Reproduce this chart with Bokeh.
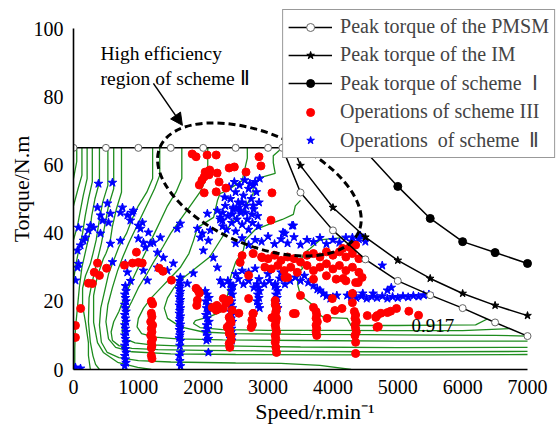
import math
from bokeh.plotting import figure
from bokeh.models import Range1d, Legend, LegendItem, Label, Arrow, NormalHead, Title
from bokeh.embed import file_html
from bokeh.resources import INLINE

# ---------------- data ----------------
x_ticks = [0, 1000, 2000, 3000, 4000, 5000, 6000, 7000]
y_ticks = [0, 20, 40, 60, 80, 100]

pmsm_speed = [0, 500, 1000, 1500, 2000, 2500, 3000, 3220, 3500, 4000, 4500, 5000, 5500, 6000, 6500, 7000]
pmsm_torque = [65, 65, 65, 65, 65, 65, 65, 65, 51.9, 40.8, 32.3, 26.0, 21.8, 18.0, 13.8, 9.8]

im_speed = [3330, 3500, 4000, 4500, 5000, 5500, 6000, 6500, 7000]
im_torque = [68, 59.8, 47.5, 38.8, 32.0, 26.7, 22.3, 18.8, 15.8]
im_mark_speed = [3500, 4000, 4500, 5000, 5500, 6000, 6500, 7000]
im_mark_torque = [59.8, 47.5, 38.8, 32.0, 26.7, 22.3, 18.8, 15.8]

s1_speed = [4200, 4500, 5000, 5500, 6000, 6500, 7000]
s1_torque = [72, 64, 53.7, 44.3, 37.5, 34.3, 31.1]
s1_mark_speed = [4500, 5000, 5500, 6000, 6500, 7000]
s1_mark_torque = [64, 53.7, 44.3, 37.5, 34.3, 31.1]

# efficiency contour lines (speed, torque)
contour_speed = [
    [50, 50, 0],
    [130, 130, 70, 0],
    [210, 210, 150, 100, 60, 0],
    [290, 290, 230, 180, 140, 80, 30, 0],
    [400, 400, 330, 280, 250, 190, 130, 90, 60, 30, 20, 20],
    [530, 530, 450, 400, 350, 300, 260, 185, 140, 140, 185, 230, 230, 260],
    [620, 620, 540, 480, 430, 380, 330, 280, 240, 230, 260, 300, 340, 400],
    [740, 740, 660, 600, 560, 500, 460, 370, 310, 310, 370, 460, 680, 990, 1200],
    [1220, 1220, 1130, 1000, 900, 820, 700, 620, 540, 480, 420, 400, 430, 520, 700, 1000, 1500, 2500, 3200, 3800, 4280],
    [1330, 1330, 1250, 1150, 1050, 950, 850, 760, 680, 600, 530, 500, 540, 650, 900, 1500, 2500, 4000, 5500, 7000],
    [1670, 1670, 1580, 1450, 1350, 1250, 1150, 1050, 950, 850, 760, 700, 620, 580, 600, 700, 900, 1300, 2000, 3000, 4500, 5500, 7000],
    [2070, 2070, 1950, 1800, 1650, 1500, 1380, 1250, 1130, 1000, 900, 820, 760, 750, 800, 950, 1200, 1600, 2300, 3500, 5000, 7000],
    [2680, 2680, 2600, 2370, 2260, 2220, 2160, 1910, 1850, 1780, 1650, 1500, 1350, 1200, 1080, 1000, 980, 1050, 1250, 1600, 2300, 3500, 5000, 7000],
    [3220, 3080, 3080, 3110, 2880, 2770, 2770, 2600, 2500, 2400, 2300, 2200, 2100, 1900, 1700, 1550, 1450, 1400, 1450, 1650, 2000, 2500, 3500, 4500, 5500, 6500, 7000],
    [3500, 3420, 3390, 3220, 3000, 2800, 2650, 2620, 2500, 2420, 2380, 2280, 2100, 1880, 1850, 1950, 2300, 3000, 4000, 5000, 6000, 6720],
    [4150, 3800, 3650, 3550, 3500, 3530, 3450, 3460, 3500, 3700, 3750, 3850, 4220, 4280, 4480, 5000, 5600, 6200, 6380],
]
contour_torque = [
    [65, 61, 56],
    [65, 57, 53, 48],
    [65, 56, 51, 46, 42, 38],
    [65, 55, 50, 45, 40, 35, 30, 26],
    [65, 55, 50, 45, 40, 35, 30, 24, 18, 12, 6, 0],
    [65, 54, 49, 44, 38, 34, 31, 27.5, 23.8, 18.8, 13.8, 7.9, 4.1, 0],
    [65, 53, 48, 42, 37, 33, 29, 25, 21, 14, 8, 4, 1.5, 0],
    [65, 52, 47, 42, 37, 34, 32.5, 27.5, 21.7, 13.8, 7.9, 5, 2.1, 0.6, 0],
    [65, 56, 52, 48, 44, 40, 36, 32, 28, 23, 18, 13, 8, 5, 3.5, 2.6, 2.2, 1.9, 1.8, 1.2, 0],
    [65, 57, 53, 49, 45, 41, 37, 33, 29, 24, 19, 14, 9, 6.5, 5.2, 4.6, 4.4, 4.3, 4.3, 4.4],
    [65, 56, 52, 48, 44, 40, 36, 32, 28, 24, 20, 17, 14, 11, 8.5, 7, 6.2, 5.8, 5.6, 5.4, 5.2, 5.2, 5.3],
    [65, 57, 52, 48, 44, 40, 36, 32, 28, 24, 20, 17, 14, 11, 9, 7.8, 7.2, 6.9, 6.9, 6.6, 6.4, 6.5],
    [65, 62, 55.4, 52.5, 51.6, 49.6, 44.6, 41.6, 37.8, 34, 30, 27, 24, 21, 18, 15, 12.5, 10.5, 9.5, 9, 8.7, 8.5, 8.3, 8.3],
    [65, 62.7, 60.7, 57.5, 56.3, 54, 51.6, 46, 44.6, 42, 39, 36, 33, 30, 27, 24, 21, 18, 15, 12.5, 11.0, 10.5, 10.3, 10.2, 10.1, 10.0, 9.8],
    [49.6, 48, 45.5, 44, 42.5, 41, 38, 35, 31.5, 27, 22, 17, 15.5, 14.3, 13.5, 12.3, 11.7, 11.5, 11.5, 11.4, 11.4, 12.0],
    [38.7, 38, 35.5, 34, 31.6, 29.6, 28, 24.6, 21.7, 18.8, 16.7, 15.3, 15, 12.9, 12.9, 12.9, 13.0, 13.1, 14.8],
]
eff_label = "0.917"
eff_label_speed = 5540
eff_label_torque = 12.9

red_speed = [
    1830, 1890, 2060, 2200, 2030, 2090, 2015, 2480, 2400, 2215, 2245, 1940, 2015, 2200, 2860, 2890, 2660, 2350, 3060, 3045, 2100, 1980,
    230, 320, 400, 510, 370, 785, 970, 910, 1060, 1320, 1510, 290, 1380, 110, 30, 30, 1000,
    1200, 1220, 1200, 1210, 1190, 1220, 1200, 1210, 1190, 1220, 1200, 1210, 1200, 1200, 1210,
    1890, 1940, 1910, 1900, 2140, 2200, 2245, 2210, 2350, 2400, 2445, 2550, 1920, 2310,
    2400, 2420, 2430, 2400, 2370, 2410, 2400, 2430, 2430, 2400, 2410,
    2750, 2760, 2740, 2770,
    3110, 3130, 3120, 3110, 3130, 3120, 3110, 3120, 3130, 3110, 3120, 3110, 3120, 3130,
    3740, 3750, 3740, 3760, 3740, 3750, 3740, 3750,
    4330, 4350, 4340, 4360, 4340, 4350, 4360, 4340, 4350, 4350,
    3420, 3910, 4140, 3500, 3700, 3390, 2310, 2770, 3060, 4300, 4390, 4160, 2700, 3110, 3990, 4030, 4300, 4530, 4680, 4700, 4840,
    4660, 4740, 4890, 4980, 5170, 5320, 4680,
    2900, 3000, 3100, 3200, 3300, 3400, 3500, 3600, 3700, 3800, 3900, 4000, 4100, 4200, 4300, 4400,
    2950, 3050, 3150, 3250, 3350, 3450, 3600, 3700, 3800, 3900, 4000, 4100, 4200, 4300, 4400,
    3300, 3700, 3900, 4050, 4200, 4350, 4450,
    2570, 2600, 2770, 2910, 2700, 3260, 4260, 4350, 4150,
]
red_torque = [
    63.2, 62.4, 62.9, 62.9, 57.9, 57.1, 56.5, 59.4, 59.1, 57.6, 55.0, 54.1, 51.8, 52.1, 62.4, 59.7, 57.9, 53.2, 51.8, 43.8, 58.5, 55.5,
    25.3, 28.5, 27.6, 29.7, 31.2, 30.6, 34.4, 31.2, 31.2, 29.7, 26.2, 25.2, 28.8, 17.9, 12.9, 9.4, 31.4,
    20, 19.2, 16.5, 15.5, 14, 13, 12, 11, 10, 9, 8, 7, 6.3, 4.1, 3.2,
    23.8, 22.4, 20.3, 18.8, 18.2, 17.4, 17.9, 18.8, 19.4, 20.3, 17.4, 16.5, 23.2, 20.8,
    15.3, 14.5, 13.8, 13, 12.4, 11.5, 10.6, 9.8, 8.5, 7.6, 6.5,
    14.5, 13.2, 12.3, 16.4,
    19, 18, 17, 16, 15, 14, 13, 12, 11, 10, 9, 8, 6.5, 5,
    17, 16, 15, 14, 13, 12, 11, 10,
    17, 16, 15, 14, 13, 12, 11, 10, 8, 4.7,
    16.4, 15, 17.9, 21.7, 18.2, 16.4, 17.9, 16.4, 15.2, 22.3, 25.5, 26.7, 20.8, 20.2, 20.8, 17.3, 19.6, 15.8, 15.8, 12.6, 16.7,
    15.3, 16.5, 17.1, 17.9, 17.1, 15.9, 12.4,
    33, 32.5, 33.5, 32, 33, 32.5, 31.5, 33.5, 34, 33, 34.5, 33.5, 34.5, 33, 34, 32.5,
    30, 29.5, 30.5, 29, 30, 28.5, 30.5, 29, 30, 31, 29.5, 30.5, 29, 30, 28.5,
    27, 26.5, 27.5, 26.5, 26, 25.5, 27,
    31.4, 33.4, 34, 32.8, 27.6, 27, 35.8, 36.5, 35.5,
]

blue_speed = [
    # streak ~800 rpm
    790, 810, 800, 790, 810, 800, 790, 810, 800, 790, 810, 800, 790, 810, 800, 790, 810, 800, 790, 810, 800, 790, 810, 800, 830, 800,
    # streak ~1640 rpm
    1630, 1650, 1640, 1630, 1650, 1640, 1630, 1650, 1640, 1630, 1650, 1640, 1630, 1650, 1640, 1630, 1650, 1640, 1630, 1650, 1640, 1630, 1650, 1640, 1650, 1630, 1640, 1650,
    # streak ~2050 rpm
    2030, 2060, 2090, 2040, 2070, 2050, 2080, 2040, 2060, 2090, 2050, 2070, 2040, 2060, 2080, 2050, 2080,
    # streak ~2430 rpm
    2420, 2440, 2430, 2450, 2420, 2440, 2430, 2450, 2420, 2440, 2430, 2450, 2420, 2440, 2430, 2450, 2420, 2440,
    # streak ~2850 rpm
    2830, 2850, 2870, 2840, 2860, 2830, 2850, 2870,
    # streak ~3130 rpm
    3110, 3130, 3150, 3120, 3140, 3110, 3130, 3150,
    # band 2300-4060 rpm
    2300, 2380, 2460, 2540, 2620, 2700, 2780, 2860, 2940, 3020, 3100, 3180, 3260, 3340, 3420, 3500, 3560, 3620, 3700, 3760,
    3800, 3850, 3900, 3960, 4000, 4060, 2500, 2600, 2700, 2800, 3000, 3200,
    # band 4280-5480 rpm
    4280, 4360, 4440, 4520, 4600, 4680, 4760, 4840, 4920, 5000, 5080, 5160, 5240, 5320, 5400, 5480,
    4310, 4460, 4620, 4220, 4760, 4840, 4900,
    # band 36-39 Nm
    2500, 2600, 2700, 2800, 2900, 3000, 3100, 3200, 3300, 3400, 3500, 3600, 3700, 3800, 3900, 4000, 4100, 4200, 4300, 4400, 4500,
    3390, 3260, 3230, 3370, 4300, 4420,
    # cluster 2250-2880 rpm, 40-56 Nm
    2260, 2300, 2340, 2380, 2420, 2460, 2500, 2540, 2580, 2620, 2660, 2700, 2740, 2780, 2820, 2860, 2300, 2360, 2440, 2520,
    2600, 2680, 2760, 2840, 2400, 2480, 2560, 2640, 2720, 2800, 2330, 2450, 2550, 2650, 2750, 2500, 2700, 2850, 2600, 2770, 2870,
    # scattered, low speed
    385, 600, 370, 524, 416, 447, 570, 540, 755, 724, 908, 878, 924, 262, 231, 308, 154, 108, 185, 1063,
    1032, 1155, 1000, 724, 1186, 1109, 1294, 1340, 1648, 1600, 1910, 1987, 2080, 2064, 2218, 2295, 77, 62, 62, 31,
    416, 570, 832, 1000, 1078, 1232, 1386, 1294, 1448, 1078, 1140, 1540, 1648, 1848, 1756, 1956, 2002, 2156, 2218, 2264,
    2110, 2264, 2464, 2572, 2772, 30, 108, 77, 880, 600,
]
blue_torque = [
    1, 2, 3, 4, 5, 6, 7, 8, 9, 10, 11, 12, 13, 14, 15, 16, 17, 18, 19, 20, 21, 22, 23, 24.5, 28.5, 31,
    26, 25.2, 24.4, 23.6, 22.8, 22, 21.2, 20.4, 19.6, 18.8, 18, 17.2, 16.4, 15.6, 14.8, 14, 13.2, 12.4, 11.6, 10.8, 10, 9.2, 8.4, 7, 5, 4, 2.5, 1,
    23, 22, 21, 20, 19, 18, 17, 16, 15, 14, 13, 12, 11, 10, 9, 8.5, 5,
    25, 24, 23, 22, 21, 20, 19, 18, 17, 16, 15, 14, 13, 12, 11, 10, 9, 8.5,
    25, 24, 23, 22, 21, 20, 19, 18,
    25, 24, 23, 22, 21, 20, 19, 18,
    25, 26, 24.5, 26.5, 25, 26, 24, 26.5, 25, 26, 24.5, 26.7, 25, 26, 27, 26, 27.5, 25.5, 24.6, 23.5,
    23.2, 22.3, 21.5, 20.8, 21.2, 21.7, 28, 29, 28.5, 29.6, 28, 28.5,
    21.3, 21.0, 21.5, 20.8, 21.3, 21.0, 21.5, 20.8, 21.3, 21.0, 21.5, 21.2, 21.6, 21.4, 21.8, 22.0,
    22.3, 22.3, 22.3, 21.7, 30.5, 23.2, 24,
    37, 38.5, 36.5, 38, 37.5, 39, 36.8, 38.2, 37, 38.8, 36.6, 38, 37.4, 38.6, 36.8, 38, 37.2, 38.7, 37.5, 38.2, 37.5,
    42.2, 39.9, 40.2, 42.2, 38.7, 39.3,
    44, 46, 48, 45, 50, 47, 52, 49, 46, 51, 48, 53, 50, 47, 52, 49, 42, 41, 43, 44,
    42.5, 44, 43, 45, 53.5, 55, 54, 55.5, 54.5, 55, 50.5, 45.5, 47.5, 46, 45.5, 40.5, 41, 42, 49, 54, 56,
    54.5, 54.8, 47.5, 48.7, 45.2, 43.7, 45.7, 43.1, 47.5, 46, 46, 43.7, 46.6, 42.2, 40.8, 41.6, 37.8, 36.4, 38.7, 43.1,
    41.3, 40.2, 38.4, 37.8, 37, 35.8, 34.3, 38.7, 42.8, 41.3, 41.3, 39.9, 37.8, 45.7, 46.6, 43.7, 41.6, 34.9, 29.9, 26.1,
    39.9, 36.9, 45.2, 42.2, 37.2, 37.2, 32.8, 29.9, 29, 29, 26.1, 31.1, 27, 28.2, 25.2, 38.7, 34.9, 32.8, 29.9, 26.1,
    40.8, 44.6, 47.5, 46.6, 48.1, 0.6, 0.3, 31, 26, 31.5,
]

legend_labels = [
    "Peak torque of the PMSM",
    "Peak torque of the IM",
    "Peak torque of scheme  \u2160",
    "Operations of scheme III",
    "Operations  of scheme  \u2161",
]
note_line1 = "High efficiency"
note_line2 = "region of  scheme \u2161"
x_title = "Speed/r.min\u207b\u00b9"
y_title = "Torque/N.m"

# annotation geometry
ellipse_center = (2866, 52.8)
arrow_start = (1232, 83.9)
arrow_end = (1679, 71.6)

FONT = "Liberation Serif"
GREEN = "#1e8c1e"

# ---------------- figure ----------------
p = figure(frame_width=483, frame_height=361,
           min_border_left=73, min_border_right=0, min_border_top=8, min_border_bottom=59,
           x_range=Range1d(0, 7447), y_range=Range1d(0, 105.87),
           output_backend="svg", toolbar_location=None)
p.grid.visible = False
p.outline_line_color = None
p.background_fill_color = "white"
p.border_fill_color = "white"

for ax in (p.xaxis[0], p.yaxis[0]):
    ax.axis_line_color = "black"
    ax.axis_line_width = 1.6
    ax.major_tick_line_color = None
    ax.minor_tick_line_color = None
    ax.major_tick_out = 0
    ax.major_tick_in = 0
    ax.major_label_text_font = FONT
    ax.major_label_text_font_size = "20px"
    ax.major_label_text_color = "black"
    ax.major_label_standoff = 10
p.xaxis.ticker = x_ticks
p.yaxis.ticker = y_ticks
p.xaxis.bounds = (0, 7000)
p.yaxis.bounds = (0, 100)

# axis titles as side titles (allow offset along the axis)
p.add_layout(Title(text=y_title, align="center", offset=-32, standoff=-6, text_font=FONT,
                   text_font_size="22px", text_font_style="normal", text_color="black"), "left")
p.add_layout(Title(text=x_title, align="center", offset=-14, standoff=0, text_font=FONT,
                   text_font_size="22px", text_font_style="normal", text_color="black"), "below")

# contours
p.multi_line(xs=contour_speed, ys=contour_torque, line_color=GREEN, line_width=1.3)

# operations
blue_r = p.scatter(blue_speed, blue_torque, marker="star", size=9, fill_color="blue", line_color="blue")
red_r = p.scatter(red_speed, red_torque, marker="circle", size=8, fill_color="red", line_color="red")

# peak torque curves
pm_line = p.line(pmsm_speed, pmsm_torque, line_color="black", line_width=1.5)
pm_mark = p.scatter(pmsm_speed, pmsm_torque, marker="circle", size=7, fill_color="white", line_color="#666666", line_width=1)
im_line = p.line(im_speed, im_torque, line_color="black", line_width=1.5)
im_mark = p.scatter(im_mark_speed, im_mark_torque, marker="star", size=8, fill_color="black", line_color="black")
s1_line = p.line(s1_speed, s1_torque, line_color="black", line_width=1.5)
s1_mark = p.scatter(s1_mark_speed, s1_mark_torque, marker="circle", size=8, fill_color="black", line_color="black")

# dashed ellipse + arrow + note
p.ellipse(x=[ellipse_center[0]], y=[ellipse_center[1]], width=216, height=112, angle=-0.40,
          width_units="screen", height_units="screen", fill_alpha=0,
          line_color="black", line_width=3, line_dash="7 4")
p.add_layout(Arrow(end=NormalHead(size=12, fill_color="black", line_color="black"),
                   x_start=arrow_start[0], y_start=arrow_start[1],
                   x_end=arrow_end[0], y_end=arrow_end[1], line_width=1.5, line_color="black"))
p.add_layout(Label(x=416, y=92.7, text=note_line1, text_font=FONT, text_font_size="19.5px",
                   text_baseline="alphabetic", text_color="black"))
p.add_layout(Label(x=416, y=85.3, text=note_line2, text_font=FONT, text_font_size="19.5px",
                   text_baseline="alphabetic", text_color="black"))
p.add_layout(Label(x=eff_label_speed, y=eff_label_torque, text=eff_label, text_font=FONT,
                   text_font_size="19px", text_align="center", text_baseline="middle", text_color="black"))

legend = Legend(items=[
    LegendItem(label=legend_labels[0], renderers=[pm_line, pm_mark]),
    LegendItem(label=legend_labels[1], renderers=[im_line, im_mark]),
    LegendItem(label=legend_labels[2], renderers=[s1_line, s1_mark]),
    LegendItem(label=legend_labels[3], renderers=[red_r]),
    LegendItem(label=legend_labels[4], renderers=[blue_r]),
], location="top_right", margin=1, padding=5, spacing=5, glyph_width=44, glyph_height=20,
   label_standoff=8, label_height=20, label_text_font=FONT, label_text_font_size="20px",
   border_line_color="#333333", border_line_width=1.5, background_fill_color="white", background_fill_alpha=1)
p.add_layout(legend)

open("out.html", "w").write(file_html(p, INLINE))
